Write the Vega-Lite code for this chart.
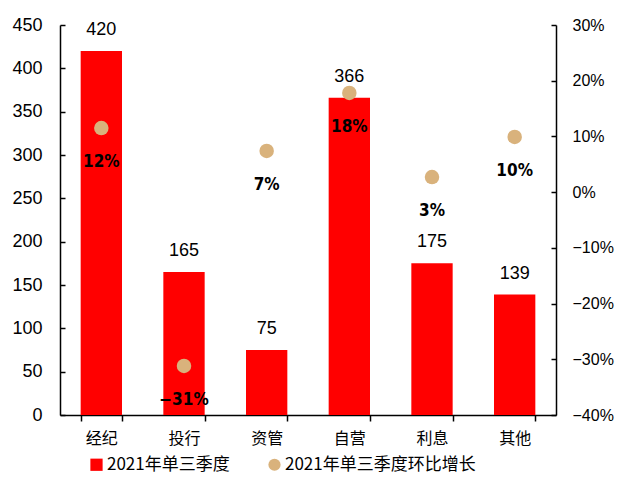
{
  "$schema": "https://vega.github.io/schema/vega-lite/v6.json",
  "width": 496,
  "height": 390,
  "autosize": {"type": "none"},
  "padding": {"left": 60, "top": 25, "right": 61, "bottom": 86},
  "background": "white",
  "config": {
    "view": {"stroke": null},
    "font": "Liberation Sans",
    "axis": {"domainColor": "black", "tickColor": "black", "domainWidth": 1.5, "tickWidth": 1.5, "labelColor": "black", "grid": false, "title": null}
  },
  "data": {
    "values": [
      {"cat": "经纪", "series": "2021年单三季度", "value": 420},
      {"cat": "投行", "series": "2021年单三季度", "value": 165},
      {"cat": "资管", "series": "2021年单三季度", "value": 75},
      {"cat": "自营", "series": "2021年单三季度", "value": 366},
      {"cat": "利息", "series": "2021年单三季度", "value": 175},
      {"cat": "其他", "series": "2021年单三季度", "value": 139},
      {"cat": "经纪", "series": "2021年单三季度环比增长", "value": 0.115},
      {"cat": "投行", "series": "2021年单三季度环比增长", "value": -0.312},
      {"cat": "资管", "series": "2021年单三季度环比增长", "value": 0.074},
      {"cat": "自营", "series": "2021年单三季度环比增长", "value": 0.178},
      {"cat": "利息", "series": "2021年单三季度环比增长", "value": 0.027},
      {"cat": "其他", "series": "2021年单三季度环比增长", "value": 0.099}
    ]
  },
  "encoding": {
    "x": {
      "field": "cat", "type": "nominal", "sort": null,
      "scale": {"paddingInner": 0.5, "paddingOuter": 0.25},
      "axis": {"labelAngle": 0, "labelFont": "Noto Sans CJK SC", "labelFontSize": 16, "tickBand": "extent", "tickSize": 6, "labelPadding": 9}
    }
  },
  "layer": [
    {
      "transform": [{"filter": "datum.series == '2021年单三季度'"}],
      "layer": [
        {
          "mark": {"type": "bar"},
          "encoding": {
            "y": {"field": "value", "type": "quantitative", "scale": {"domain": [0, 450]},
              "axis": {"orient": "left", "values": [0,50,100,150,200,250,300,350,400,450], "labelFontSize": 18, "tickSize": -5, "labelPadding": 23}},
            "color": {"field": "series", "type": "nominal",
              "scale": {"domain": ["2021年单三季度", "2021年单三季度环比增长"], "range": ["#FF0000", "#D9B27C"]},
              "legend": {"orient": "none", "legendX": 28, "legendY": 431, "direction": "horizontal", "title": null, "labelFont": "Noto Sans CJK SC", "labelFontSize": 17, "labelColor": "black", "labelLimit": 400, "symbolSize": 150, "columnPadding": 36, "labelOffset": 2}}
          }
        },
        {
          "mark": {"type": "text", "baseline": "bottom", "dy": -12, "fontSize": 18, "color": "black"},
          "encoding": {
            "y": {"field": "value", "type": "quantitative"},
            "text": {"field": "value", "type": "quantitative"}
          }
        }
      ]
    },
    {
      "transform": [{"filter": "datum.series == '2021年单三季度环比增长'"}],
      "layer": [
        {
          "mark": {"type": "point", "filled": true, "size": 210, "opacity": 1},
          "encoding": {
            "y": {"field": "value", "type": "quantitative", "scale": {"domain": [-0.4, 0.3]},
              "axis": {"orient": "right", "format": ".0%", "values": [-0.4,-0.3,-0.2,-0.1,0,0.1,0.2,0.3], "labelFontSize": 16, "tickSize": -5, "labelPadding": 21}},
            "color": {"field": "series", "type": "nominal"},
            "shape": {"field": "series", "type": "nominal",
              "scale": {"domain": ["2021年单三季度", "2021年单三季度环比增长"], "range": ["square", "circle"]}}
          }
        },
        {
          "mark": {"type": "text", "baseline": "middle", "dy": 34, "fontSize": 17, "fontWeight": "bold", "font": "DejaVu Sans Condensed, Liberation Sans", "color": "black"},
          "encoding": {
            "y": {"field": "value", "type": "quantitative"},
            "text": {"field": "value", "type": "quantitative", "format": ".0%"}
          }
        }
      ]
    }
  ],
  "resolve": {"scale": {"y": "independent"}}
}
